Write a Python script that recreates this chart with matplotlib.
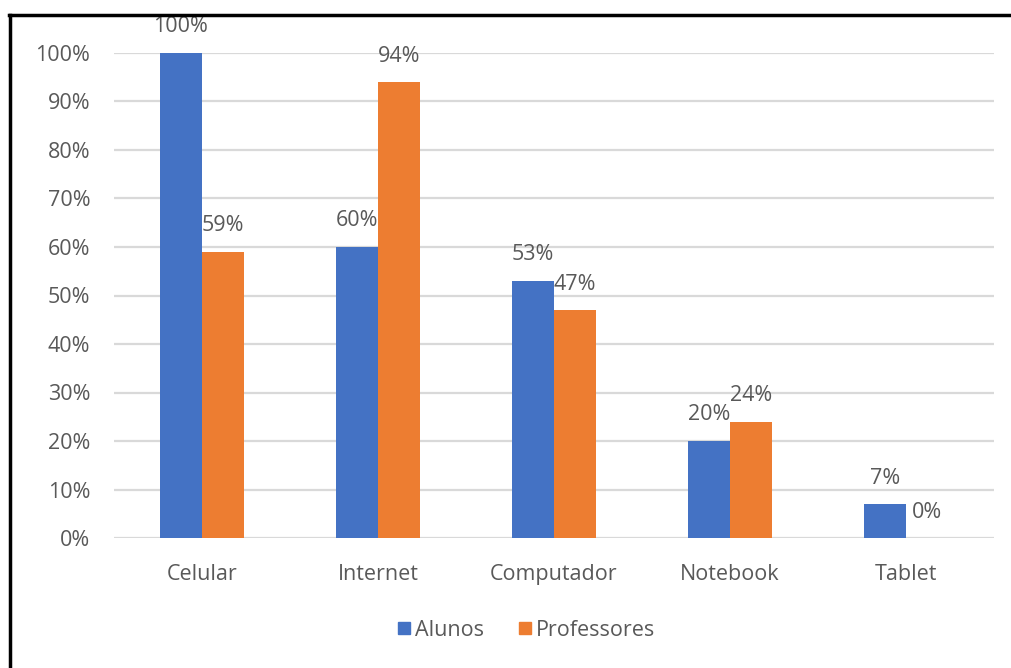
import matplotlib.pyplot as plt
from matplotlib.lines import Line2D
import numpy as np

plt.rcParams["font.family"] = ["Open Sans", "DejaVu Sans"]

# Dados
categorias = ["Celular", "Internet", "Computador", "Notebook", "Tablet"]
alunos = [100, 60, 53, 20, 7]
professores = [59, 94, 47, 24, 0]
series = ["Alunos", "Professores"]
yticks = [0, 10, 20, 30, 40, 50, 60, 70, 80, 90, 100]

azul = "#4472C4"
laranja = "#ED7D31"
cinza_texto = "#595959"
cinza_grade = "#D9D9D9"
fonte = 15.5

fig = plt.figure(figsize=(10.11, 6.68), dpi=100)
ax = fig.add_axes([114 / 1011, 1 - 538 / 668, (994 - 114) / 1011, (538 - 53) / 668])

x = np.arange(len(categorias))
largura = 0.24

b1 = ax.bar(x - largura / 2, alunos, largura, color=azul, label=series[0])
b2 = ax.bar(x + largura / 2, professores, largura, color=laranja, label=series[1])

# Rótulos de valor acima das barras
for barras, valores in [(b1, alunos), (b2, professores)]:
    for barra, v in zip(barras, valores):
        ax.annotate(
            f"{v}%",
            xy=(barra.get_x() + barra.get_width() / 2, v),
            xytext=(0, 26),
            textcoords="offset pixels",
            ha="center",
            va="center",
            fontsize=fonte,
            color=cinza_texto,
            annotation_clip=False,
        )

ax.set_xlim(-0.5, len(categorias) - 0.5)
ax.set_ylim(0, 100)
ax.set_yticks(yticks)
ax.set_yticklabels([f"{t}%" for t in yticks])
ax.set_xticks(x)
ax.set_xticklabels(categorias)

ax.tick_params(axis="y", length=0, pad=17, labelsize=fonte, labelcolor=cinza_texto)
ax.tick_params(axis="x", length=0, pad=19, labelsize=fonte, labelcolor=cinza_texto)

ax.grid(axis="y", color=cinza_grade, linewidth=1.6)
ax.set_axisbelow(True)
for s in ax.spines.values():
    s.set_visible(False)

# Legenda
handles = [
    Line2D([], [], marker="s", linestyle="none", markersize=8.5, color=azul),
    Line2D([], [], marker="s", linestyle="none", markersize=8.5, color=laranja),
]
fig.legend(
    handles,
    series,
    loc="center",
    bbox_to_anchor=(523 / 1011, 1 - 630 / 668),
    ncol=2,
    frameon=False,
    fontsize=fonte,
    labelcolor=cinza_texto,
    handletextpad=-0.1,
    handlelength=1.2,
    columnspacing=1.3,
)

# Moldura preta parcial (esquerda e topo)
fig.add_artist(Line2D([9.5 / 1011, 9.5 / 1011], [0, 1 - 15 / 668], color="black", linewidth=2.5, transform=fig.transFigure))
fig.add_artist(Line2D([8.6 / 1011, 1], [1 - 15 / 668, 1 - 15 / 668], color="black", linewidth=2.5, transform=fig.transFigure))

fig.savefig("out.png", dpi=100)
